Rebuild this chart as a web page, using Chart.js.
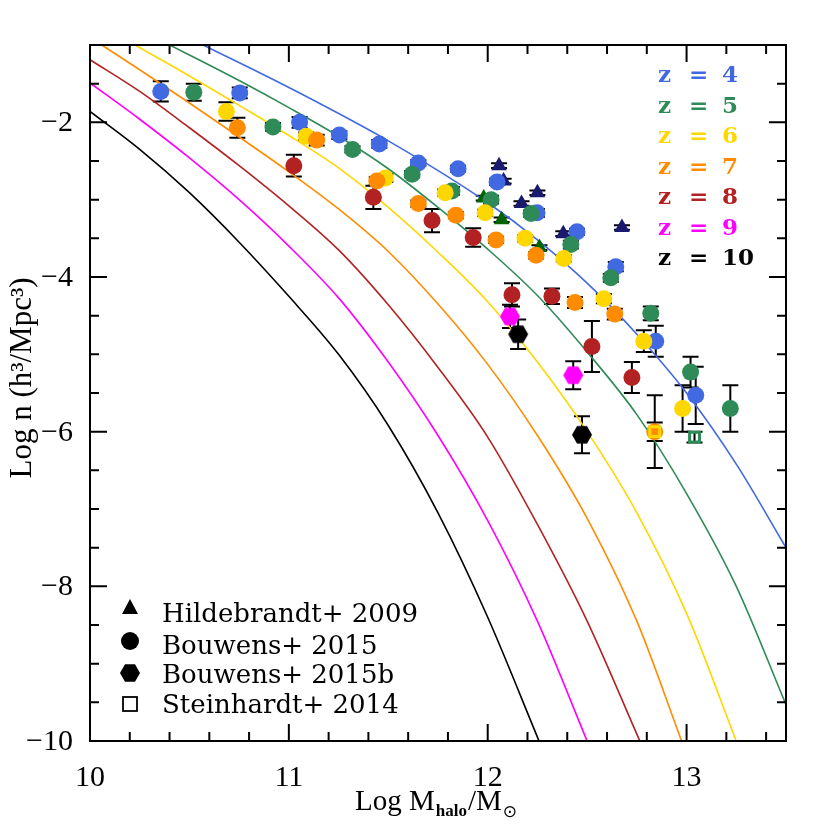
<!DOCTYPE html>
<html><head><meta charset="utf-8">
<script src="https://cdn.jsdelivr.net/npm/chart.js@4/dist/chart.umd.min.js"></script>
<style>html,body{margin:0;padding:0;background:#fff}</style>
</head><body>
<canvas id="c" width="830" height="830" style="width:830px;height:830px;display:block"></canvas>
<script>
// ---------- tick labels ----------
const xMajorTicks = [10, 11, 12, 13];
const xTickLabels = ['10', '11', '12', '13'];
const yMajorTicks = [-10, -8, -6, -4, -2];
const yTickLabels = ['\u221210', '\u22128', '\u22126', '\u22124', '\u22122'];

// ---------- model curves ----------
const curveZ4X = [10.569, 11.0, 11.5, 12.0, 12.25, 12.5, 12.75, 13.0, 13.25, 13.5];
const curveZ4Y = [-1.0, -1.55, -2.24, -3.04, -3.52, -4.08, -4.74, -5.5, -6.42, -7.5];
const curveZ5X = [10.401, 10.75, 11.0, 11.25, 11.5, 11.75, 12.0, 12.25, 12.5, 12.75, 13.0, 13.25, 13.5];
const curveZ5Y = [-1.0, -1.46, -1.81, -2.18, -2.6, -3.1, -3.64, -4.24, -4.97, -5.78, -6.8, -8.0, -9.53];
const curveZ6X = [10.226, 10.5, 10.75, 11.0, 11.25, 11.5, 11.75, 12.0, 12.25, 12.5, 12.75, 13.0, 13.25];
const curveZ6Y = [-1.0, -1.40, -1.78, -2.17, -2.59, -3.1, -3.68, -4.32, -5.1, -6.0, -7.05, -8.35, -10.0];
const curveZ7X = [10.059, 10.25, 10.5, 10.75, 11.0, 11.25, 11.5, 11.75, 12.0, 12.25, 12.5, 12.75, 12.975];
const curveZ7Y = [-1.0, -1.32, -1.75, -2.19, -2.64, -3.12, -3.67, -4.35, -5.13, -6.05, -7.12, -8.45, -10.0];
const curveZ8X = [10.0, 10.25, 10.5, 10.75, 11.0, 11.25, 11.5, 11.75, 12.0, 12.25, 12.5, 12.765];
const curveZ8Y = [-1.19, -1.6, -2.07, -2.56, -3.08, -3.65, -4.36, -5.17, -6.07, -7.2, -8.45, -10.0];
const curveZ9X = [10.0, 10.25, 10.5, 10.75, 11.0, 11.25, 11.5, 11.75, 12.0, 12.25, 12.5];
const curveZ9Y = [-1.49, -1.96, -2.46, -3.0, -3.6, -4.27, -5.1, -6.05, -7.15, -8.45, -10.0];
const curveZ10X = [10.0, 10.25, 10.5, 10.75, 11.0, 11.25, 11.5, 11.75, 12.0, 12.258];
const curveZ10Y = [-1.86, -2.35, -2.91, -3.55, -4.25, -5.0, -5.92, -7.05, -8.4, -10.0];

// ---------- Bouwens+ 2015 (circles) ----------
const z4X = [10.356, 10.753, 11.054, 11.254, 11.455, 11.651, 11.851, 12.047, 12.248, 12.449, 12.644, 12.845, 13.046];
const z4Y = [-1.60, -1.62, -2.0, -2.165, -2.28, -2.526, -2.60, -2.77, -3.17, -3.415, -3.866, -4.83, -5.53];
const z4E = [0.13, 0.07, 0.07, 0.05, 0.05, 0.04, 0.04, 0.04, 0.05, 0.04, 0.06, 0.2, 0.37];
const z5X = [10.522, 10.92, 11.32, 11.62, 11.82, 12.017, 12.218, 12.418, 12.619, 12.82, 13.02, 13.22];
const z5Y = [-1.61, -2.06, -2.35, -2.67, -2.887, -3.0, -3.18, -3.58, -4.01, -4.47, -5.23, -5.70];
const z5E = [0.11, 0.05, 0.04, 0.04, 0.05, 0.05, 0.04, 0.05, 0.05, 0.09, 0.2, 0.3];
const z6X = [10.686, 11.087, 11.485, 11.786, 11.987, 12.188, 12.383, 12.584, 12.785, 12.98];
const z6Y = [-1.86, -2.18, -2.72, -2.91, -3.17, -3.50, -3.76, -4.28, -4.83, -5.70];
const z6E = [0.12, 0.05, 0.05, 0.04, 0.04, 0.04, 0.04, 0.06, 0.14, 0.3];
const z7X = [10.741, 11.14, 11.442, 11.651, 11.84, 12.042, 12.243, 12.439, 12.639, 12.84];
const z7Y = [-2.07, -2.23, -2.76, -3.05, -3.20, -3.52, -3.72, -4.33, -4.48, -6.0];
const z7E = [0.13, 0.07, 0.05, 0.04, 0.04, 0.04, 0.04, 0.07, 0.07, 0.47];
const z8X = [11.025, 11.425, 11.72, 11.927, 12.122, 12.323, 12.524, 12.725];
const z8Y = [-2.56, -2.97, -3.27, -3.49, -4.23, -4.25, -4.90, -5.30];
const z8E = [0.14, 0.15, 0.15, 0.12, 0.15, 0.1, 0.33, 0.2];

// ---------- Bouwens+ 2015b (hexagons) ----------
const z9X = [12.112, 12.43];
const z9Y = [-4.51, -5.27];
const z9E = [0.15, 0.18];
const z10X = [12.153, 12.474];
const z10Y = [-4.74, -6.04];
const z10E = [0.19, 0.24];

// ---------- Hildebrandt+ 2009 (triangles) ----------
const hilNavyX = [12.057, 12.08, 12.17, 12.25, 12.38, 12.675];
const hilNavyY = [-2.56, -2.76, -3.05, -2.91, -3.44, -3.36];
const hilNavyE = [0.03, 0.03, 0.03, 0.03, 0.03, 0.03];
const hilGreenX = [11.98, 12.07, 12.26];
const hilGreenY = [-2.98, -3.26, -3.62];
const hilGreenE = [0.03, 0.03, 0.03];

// ---------- Steinhardt+ 2014 (squares) ----------
const steinX = [12.84, 13.04];
const steinY = [-6.0, -6.07];
const steinE = [0.12, 0.07];

// ---------- legends ----------
const zLabels = ['4', '5', '6', '7', '8', '9', '10'];
const zColors = ['#4169E1', '#2E8B57', '#FFD700', '#FF8C00', '#B22222', '#FF00FF', '#000000'];
const refLabels = ['Hildebrandt+ 2009', 'Bouwens+ 2015', 'Bouwens+ 2015b', 'Steinhardt+ 2014'];
const refSymbols = ['triangle', 'circle', 'hexagon', 'square'];

const pts = (xs, ys) => xs.map((x, i) => ({x: x, y: ys[i]}));

function hexImg(color, r) {
  const c = document.createElement('canvas');
  c.width = c.height = 2 * r + 2;
  const g = c.getContext('2d');
  g.fillStyle = color;
  g.beginPath();
  for (let k = 0; k < 6; k++) {
    const a = Math.PI / 3 * k;
    const px = r + 1 + r * Math.cos(a), py = r + 1 + r * Math.sin(a);
    if (k) g.lineTo(px, py); else g.moveTo(px, py);
  }
  g.closePath(); g.fill();
  return c;
}

function curve(xs, ys, color) {
  return {data: pts(xs, ys), showLine: true, borderColor: color, borderWidth: 1.6,
          pointRadius: 0, cubicInterpolationMode: 'monotone', order: 100, fill: false};
}
function circles(xs, ys, es, color, ord) {
  return {data: pts(xs, ys), errs: es, showLine: false, pointStyle: 'circle', pointRadius: 8.5,
          backgroundColor: color, borderColor: color, borderWidth: 0, order: ord};
}

const datasets = [
  curve(curveZ4X, curveZ4Y, zColors[0]),
  curve(curveZ5X, curveZ5Y, zColors[1]),
  curve(curveZ6X, curveZ6Y, zColors[2]),
  curve(curveZ7X, curveZ7Y, zColors[3]),
  curve(curveZ8X, curveZ8Y, zColors[4]),
  curve(curveZ9X, curveZ9Y, zColors[5]),
  curve(curveZ10X, curveZ10Y, zColors[6]),
  {data: pts(hilNavyX, hilNavyY), errs: hilNavyE, showLine: false, pointStyle: 'triangle', pointRadius: 9,
   backgroundColor: '#191970', borderWidth: 0, order: 51},
  {data: pts(hilGreenX, hilGreenY), errs: hilGreenE, showLine: false, pointStyle: 'triangle', pointRadius: 9,
   backgroundColor: '#006400', borderWidth: 0, order: 50},
  circles(z4X, z4Y, z4E, zColors[0], 40),
  circles(z5X, z5Y, z5E, zColors[1], 39),
  circles(z6X, z6Y, z6E, zColors[2], 38),
  circles(z7X, z7Y, z7E, zColors[3], 37),
  circles(z8X, z8Y, z8E, zColors[4], 36),
  {data: pts(z9X, z9Y), errs: z9E, showLine: false, pointStyle: hexImg('#FF00FF', 10), order: 35},
  {data: pts(z10X, z10Y), errs: z10E, showLine: false, pointStyle: hexImg('#000000', 10), order: 34},
  {data: pts(steinX, steinY), errs: steinE, showLine: false, pointStyle: 'rect', pointRadius: 7,
   backgroundColor: ['#FF8C00', 'rgba(0,0,0,0)'], borderColor: ['#FFD700', '#2E8B57'], borderWidth: 3, order: 33}
];

const SERIF = '"Liberation Serif", "DejaVu Serif", serif';

const errorBars = {
  id: 'errorBars',
  beforeDatasetsDraw(chart) {
    const ctx = chart.ctx, xs = chart.scales.x, ys = chart.scales.y;
    ctx.save();
    ctx.strokeStyle = '#000'; ctx.lineWidth = 2;
    chart.data.datasets.forEach(ds => {
      if (!ds.errs) return;
      ds.data.forEach((d, i) => {
        const e = ds.errs[i];
        const px = xs.getPixelForValue(d.x);
        const y1 = ys.getPixelForValue(d.y + e), y2 = ys.getPixelForValue(d.y - e);
        ctx.beginPath();
        ctx.moveTo(px, y1); ctx.lineTo(px, y2);
        ctx.moveTo(px - 8, y1); ctx.lineTo(px + 8, y1);
        ctx.moveTo(px - 8, y2); ctx.lineTo(px + 8, y2);
        ctx.stroke();
      });
    });
    ctx.restore();
  }
};

const frame = {
  id: 'frame',
  afterDraw(chart) {
    const ctx = chart.ctx, a = chart.chartArea, xs = chart.scales.x, ys = chart.scales.y;
    ctx.save();
    ctx.strokeStyle = '#000'; ctx.lineWidth = 2;
    ctx.strokeRect(a.left, a.top, a.right - a.left, a.bottom - a.top);
    ctx.beginPath();
    for (let k = 0; k <= 17; k++) {
      const v = 10 + 0.2 * k;
      const major = xMajorTicks.some(t => Math.abs(t - v) < 1e-6);
      const L = major ? 17 : 9;
      const px = xs.getPixelForValue(v);
      ctx.moveTo(px, a.bottom); ctx.lineTo(px, a.bottom - L);
      ctx.moveTo(px, a.top); ctx.lineTo(px, a.top + L);
    }
    for (let k = 0; k <= 18; k++) {
      const v = -10 + 0.5 * k;
      const major = yMajorTicks.some(t => Math.abs(t - v) < 1e-6);
      const L = major ? 17 : 9;
      const py = ys.getPixelForValue(v);
      ctx.moveTo(a.left, py); ctx.lineTo(a.left + L, py);
      ctx.moveTo(a.right, py); ctx.lineTo(a.right - L, py);
    }
    ctx.stroke();

    // tick labels
    ctx.fillStyle = '#000';
    ctx.font = '30px ' + SERIF;
    ctx.textAlign = 'center'; ctx.textBaseline = 'alphabetic';
    xMajorTicks.forEach((v, i) => ctx.fillText(xTickLabels[i], xs.getPixelForValue(v), 786));
    ctx.textAlign = 'right'; ctx.textBaseline = 'middle';
    yMajorTicks.forEach((v, i) => ctx.fillText(yTickLabels[i], 73, ys.getPixelForValue(v) + 1));

    // x title: Log M_halo / M_sun
    ctx.textAlign = 'left'; ctx.textBaseline = 'alphabetic';
    let x0 = 355; const yb = 810;
    ctx.font = '29px ' + SERIF;
    ctx.fillText('Log M', x0, yb); x0 += ctx.measureText('Log M').width + 1;
    ctx.font = 'bold 17px ' + SERIF;
    ctx.fillText('halo', x0, yb + 6); x0 += ctx.measureText('halo').width + 1;
    ctx.font = '29px ' + SERIF;
    ctx.fillText('/M', x0, yb); x0 += ctx.measureText('/M').width;
    ctx.font = '17px "DejaVu Sans", sans-serif';
    ctx.fillText('\u2299', x0 + 1, yb + 7);

    // y title
    ctx.save();
    ctx.translate(31, 378);
    ctx.rotate(-Math.PI / 2);
    ctx.textAlign = 'center'; ctx.textBaseline = 'alphabetic';
    ctx.font = '31px ' + SERIF;
    ctx.fillText('Log n (h\u00B3/Mpc\u00B3)', 0, 0);
    ctx.restore();

    // redshift legend, top right
    ctx.textAlign = 'left'; ctx.textBaseline = 'alphabetic';
    ctx.font = 'bold 23px "DejaVu Serif", serif';
    zLabels.forEach((lab, i) => {
      const by = 82 + 30.5 * i;
      ctx.fillStyle = zColors[i];
      ctx.fillText('z', 658, by);
      ctx.fillText('=', 689, by);
      ctx.fillText(lab, 722, by);
    });

    // reference legend, bottom left
    ctx.fillStyle = '#000'; ctx.strokeStyle = '#000';
    ctx.font = '26px "DejaVu Serif", serif';
    const symY = [608, 641, 673, 704];
    const txtY = [622, 654, 683, 713];
    refSymbols.forEach((s, i) => {
      const cx = 130, cy = symY[i];
      ctx.beginPath();
      if (s === 'triangle') {
        ctx.moveTo(cx, cy - 9); ctx.lineTo(cx + 8, cy + 6); ctx.lineTo(cx - 8, cy + 6); ctx.closePath(); ctx.fill();
      } else if (s === 'circle') {
        ctx.arc(cx, cy, 9, 0, Math.PI * 2); ctx.fill();
      } else if (s === 'hexagon') {
        for (let k = 0; k < 6; k++) {
          const ang = Math.PI / 3 * k;
          const px = cx + 10 * Math.cos(ang), py = cy + 10 * Math.sin(ang);
          if (k) ctx.lineTo(px, py); else ctx.moveTo(px, py);
        }
        ctx.closePath(); ctx.fill();
      } else {
        ctx.lineWidth = 1.8;
        ctx.strokeRect(cx - 7, cy - 7, 14, 14);
      }
      ctx.fillText(refLabels[i], 162, txtY[i]);
    });
    ctx.restore();
  }
};

new Chart(document.getElementById('c'), {
  type: 'scatter',
  data: {datasets: datasets},
  options: {
    responsive: false,
    animation: false,
    devicePixelRatio: 1,
    layout: {padding: {left: 90, right: 44, top: 45, bottom: 89}},
    plugins: {legend: {display: false}, tooltip: {enabled: false}},
    scales: {
      x: {type: 'linear', min: 10, max: 13.5, display: false},
      y: {type: 'linear', min: -10, max: -1, display: false}
    }
  },
  plugins: [errorBars, frame]
});
</script>
</body></html>
